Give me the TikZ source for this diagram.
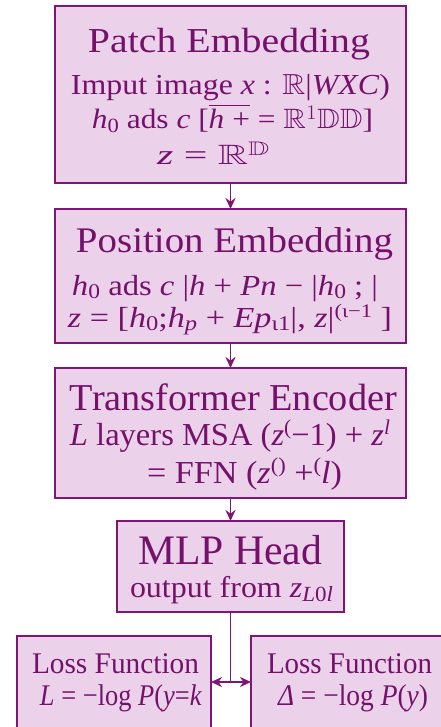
\documentclass[tikz,border=0pt]{standalone}
\usepackage{fontspec}
\usepackage{amssymb}
\usepackage{graphicx}
\setmainfont{Liberation Serif}
\usetikzlibrary{arrows.meta}

\definecolor{edgepurple}{HTML}{7E1676}
\definecolor{boxfill}{HTML}{EBD2EA}
\definecolor{inkpurple}{HTML}{75106B}

% line of text stretched to a given width, height kept
\newcommand{\fitw}[2]{\resizebox{#1}{\height}{#2}}
\newcommand{\lo}[1]{\raisebox{-0.3ex}{\scalebox{0.72}{#1}}}
\newcommand{\hi}[1]{\raisebox{0.7ex}{\scalebox{0.66}{#1}}}
\newcommand{\fs}[1]{\fontsize{#1}{#1}\selectfont}

\tikzset{
  stage/.style={draw=edgepurple, fill=boxfill, line width=2.2pt},
  txt/.style={anchor=base, inner sep=0pt, text=inkpurple},
  flow/.style={draw=edgepurple, line width=1.8pt, -{Stealth[length=11pt,width=10pt]}},
  flowplain/.style={draw=edgepurple, line width=1.8pt},
}

\begin{document}
\begin{tikzpicture}[x=1pt,y=-1pt]
\useasboundingbox (0,0) rectangle (441,727);
\clip (0,0) rectangle (441,727);

% boxes
\draw[stage] (55,6) rectangle (406,183);
\coordinate (peS) at (230.5,183);
\draw[stage] (55,209) rectangle (406,343);
\coordinate (posN) at (230.5,209);
\coordinate (posS) at (230.5,343);
\draw[stage] (55,368) rectangle (406,498);
\coordinate (encN) at (230.5,368);
\coordinate (encS) at (230.5,498);
\draw[stage] (117,521) rectangle (344,612);
\coordinate (mlpN) at (230.5,521);
\coordinate (mlpS) at (230.5,612);
\draw[stage] (17,636) rectangle (211,740);
\coordinate (lossL) at (211,682);
\draw[stage] (251,636) rectangle (460,740);
\coordinate (lossR) at (251,682);
\coordinate (split) at (230.5,682);

% connectors
\draw[flow] (peS) -- (posN);
\draw[flow] (posS) -- (encN);
\draw[flow] (encS) -- (mlpN);
\draw[flowplain] (mlpS) -- (split);
\draw[flow] (split) -- (lossL);
\draw[flow] (split) -- (lossR);

% Patch Embedding
\node[txt,font=\fs{35}] (t1) at (229,53) {\fitw{282pt}{Patch Embedding}};
\node[txt,font=\fs{29}] (t1a) at (230.5,95) {\fitw{319pt}{Imput image \textit{x} : $\mathbb{R}$|\textit{WXC})}};
\node[txt,font=\fs{28}] (t1b) at (232.5,129) {\fitw{281pt}{\textit{h}\lo{0} ads \textit{c} [$\overline{\mbox{\textit{h} +}}$ = $\mathbb{R}^{1}\mathbb{DD}$]}};
\node[txt,font=\fs{28}] (t1c) at (213.5,165) {\fitw{113pt}{\textit{z} = $\mathbb{R}^{\mathbb{D}}$}};

% Position Embedding
\node[txt,font=\fs{36}] (t2) at (234.5,252) {\fitw{317pt}{Position Embedding}};
\node[txt,font=\fs{29}] (t2a) at (225,295) {\fitw{306pt}{\textit{h}\lo{0} ads \textit{c} |\textit{h} + \textit{Pn} − |\textit{h}\lo{0} ; |}};
\node[txt,font=\fs{29}] (t2b) at (230,327) {\fitw{324pt}{\textit{z} = [\textit{h}\lo{0};\textit{h}\lo{\textit{p}} + \textit{Ep}\lo{ι1}|, \textit{z}|\hi{(ι−1} ]}};

% Transformer Encoder
\node[txt,font=\fs{38}] (t3) at (233.5,410) {\fitw{327pt}{Transformer Encoder}};
\node[txt,font=\fs{32}] (t3a) at (230,445) {\fitw{320pt}{\textit{L} layers MSA (\textit{z}\hi{(}−1) + \textit{z}\hi{\textit{l}}}};
\node[txt,font=\fs{32}] (t3b) at (244.5,483) {\fitw{195pt}{= FFN (\textit{z}\hi{()} +\hi{(}\textit{l})}};

% MLP Head
\node[txt,font=\fs{42}] (t4) at (230,564) {\fitw{184pt}{MLP Head}};
\node[txt,font=\fs{30}] (t4a) at (231.5,597) {\fitw{203pt}{output from \textit{z}\lo{\textit{L}0\textit{l}}}};

% loss functions
\node[txt,font=\fs{30}] (t5) at (115.5,673) {\fitw{167pt}{Loss Function}};
\node[txt,font=\fs{30}] (t5a) at (121,705) {\fitw{162pt}{\textit{L} = −log \textit{P}(\textit{y}=\textit{k}}};
\node[txt,font=\fs{30}] (t6) at (349.5,673) {\fitw{165pt}{Loss Function}};
\node[txt,font=\fs{30}] (t6a) at (353,705) {\fitw{150pt}{\textit{Δ} = −log \textit{P}(\textit{y})}};
\end{tikzpicture}
\end{document}
